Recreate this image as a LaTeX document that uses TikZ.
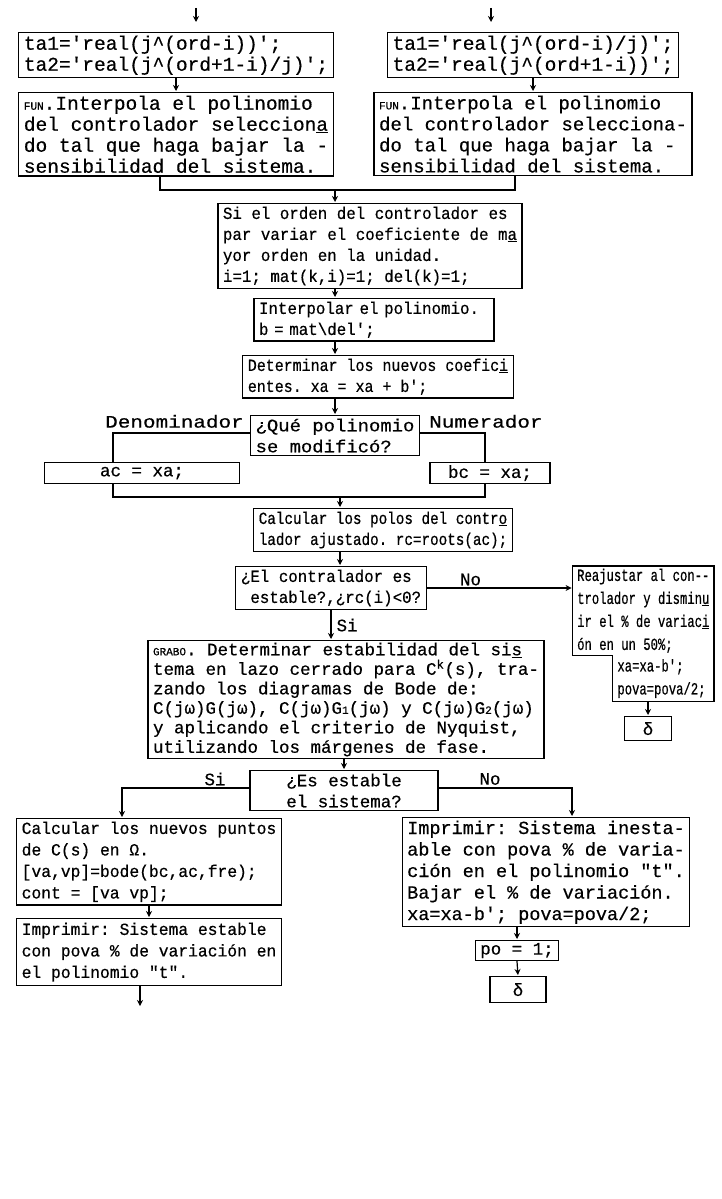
\documentclass[tikz,border=0pt]{standalone}
\usepackage{fontspec}
\setmonofont[FakeBold=0.5]{Liberation Mono}
\usetikzlibrary{arrows.meta,positioning,calc}

% size, line height, horizontal stretch
\newcommand{\tf}[3]{\ttfamily\fontsize{#1}{#2}\selectfont\addfontfeatures{FakeStretch=#3}}
\newcommand{\smc}[1]{{\fontsize{11}{11}\selectfont #1}}
\newcommand{\sbs}[1]{{\fontsize{11}{11}\selectfont #1}}

\begin{document}
\begin{tikzpicture}[
  x=1pt, y=-1pt,
  box/.style={rectangle, draw, line width=1.2pt, align=left, anchor=north,
              inner xsep=5pt, inner ysep=3pt, font=\tf{17.5}{21}{1}},
  lbl/.style={font=\tf{17.5}{21}{1}, inner xsep=1pt, inner ysep=2pt},
  line/.style={draw, line width=1.2pt},
  arr/.style={draw, line width=1.2pt, -{Stealth[length=6pt,width=6pt]}, shorten >=1pt}
]
\useasboundingbox (0,0) rectangle (721,1199);

% two entries at the top
\coordinate (inL) at (196,8);
\coordinate (inR) at (491,8);
\node[box, font=\tf{19.5}{21}{1}] (tl1) at (176,32) {ta1='real(j\textasciicircum(ord-i))';\\ta2='real(j\textasciicircum(ord+1-i)/j)';};
\node[box, font=\tf{19.5}{21}{1}] (tr1) at (533,32) {ta1='real(j\textasciicircum(ord-i)/j)';\\ta2='real(j\textasciicircum(ord+1-i))';};
\node[box, font=\tf{19.5}{21}{1}] (funL) at (176,92) {\smc{FUN}.Interpola el polinomio\\del controlador seleccion\underline{a}\\do tal que haga bajar la -\\sensibilidad del sistema.};
\node[box, font=\tf{19}{21}{1}] (funR) at (533,92) {\smc{FUN}.Interpola el polinomio\\del controlador selecciona-\\do tal que haga bajar la -\\sensibilidad del sistema.};
\draw[arr, shorten >=10pt] (inL) -- (inL |- tl1.north);
\draw[arr, shorten >=10pt] (inR) -- (inR |- tr1.north);
\draw[arr] (tl1.south) -- (funL.north);
\draw[arr] (tr1.south) -- (funR.north);

% middle column
\coordinate (mrg) at (335,190);
\node[box, font=\tf{17}{21}{0.93}] (ord) at (370,203) {Si el orden del controlador es\\par variar el coeficiente de m\underline{a}\\yor orden en la unidad.\\i=1; mat(k,i)=1; del(k)=1;};
\node[box, font=\tf{17}{21}{0.93}, text width=230pt] (interp) at (374,298) {Interpolar el polinomio.\\b = mat\textbackslash del';};
\node[box, font=\tf{17}{21}{0.88}] (coef) at (378,355) {Determinar los nuevos coefic\underline{i}\\entes. xa = xa + b';};
\draw[line] ([xshift=-16pt]funL.south) |- (mrg) -| ([xshift=-18pt]funR.south);
\draw[arr] (mrg) -- (ord.north -| mrg);
\draw[arr] (ord.south -| mrg) -- (interp.north -| mrg);
\draw[arr] (interp.south -| mrg) -- (coef.north -| mrg);

% which polynomial
\node[box, font=\tf{17.5}{21}{1.08}] (qpol) at (335,415) {¿Qué polinomio\\se modificó?};
\node[lbl, font=\tf{17.5}{21}{1.2}, anchor=south east] (den) at ([xshift=-5pt,yshift=-15pt]qpol.north west) {Denominador};
\node[lbl, font=\tf{17.5}{21}{1.2}, anchor=south west] (num) at ([xshift=8pt,yshift=-15pt]qpol.north east) {Numerador};
\coordinate (acx) at (113,0);
\coordinate (bcx) at (485,0);
\coordinate (mrg2) at (340,497);
\node[box, minimum width=195pt, minimum height=21pt, align=center, inner ysep=1pt] (ac) at (142,462) {ac = xa;};
\node[box, minimum width=120pt, minimum height=21pt, align=center, inner ysep=1pt] (bc) at (490,462) {bc = xa;};
\draw[arr] (coef.south -| mrg) -- (qpol.north -| mrg);
\draw[line] ([yshift=-18pt]qpol.north west) -| (ac.north -| acx);
\draw[line] ([yshift=-18pt]qpol.north east) -| (bc.north -| bcx);
\draw[line] (ac.south -| acx) |- (mrg2) -| (bc.south -| bcx);

\node[box, font=\tf{17}{21}{0.84}, inner ysep=3pt] (calcP) at (383,508) {Calcular los polos del contr\underline{o}\\lador ajustado. rc=roots(ac);};
\draw[arr] (mrg2) -- (calcP.north -| mrg2);

% stability of the controller
\node[box, font=\tf{17}{21}{0.93}] (stab) at (331,566) {¿El contralador es\\\phantom{x}estable?,¿rc(i)<0?};
\draw[arr] (calcP.south -| mrg2) -- (stab.north -| mrg2);
\node[box, draw=none, anchor=north east, font=\tf{17}{23}{0.72}, inner xsep=4pt, inner ysep=2pt] (reajT) at (714,566) {Reajustar al con--\\trolador y dismin\underline{u}\\ir el \% de variac\underline{i}\\ón en un 50\%;};
\node[box, draw=none, anchor=north east, font=\tf{17}{23}{0.72}, inner xsep=4pt, inner ysep=3pt, text width=92pt] (reajB) at (reajT.south east) {xa=xa-b';\\pova=pova/2;};
\draw[line] (reajT.north west) -- (reajT.north east) -- (reajB.south east)
  -- (reajB.south west) -- (reajB.north west) -- (reajT.south west) -- cycle;
\draw[arr] (stab.east) -- node[lbl, above, pos=0.3] {No} (stab.east -| reajT.west);
\node[box, minimum width=47pt, minimum height=24pt] (deltaR) at (648,716) {δ};
\draw[arr] (deltaR.north |- reajB.south) -- (deltaR.north);

% closed loop
\node[box, font=\tf{17.5}{19.5}{1}, inner ysep=2pt] (grabo) at (346,640) {\smc{GRABO}. Determinar estabilidad del si\underline{s}\\tema en lazo cerrado para C\textsuperscript{k}(s), tra-\\zando los diagramas de Bode de:\\C(jω)G(jω), C(jω)G\sbs{1}(jω) y C(jω)G\sbs{2}(jω)\\y aplicando el criterio de Nyquist,\\utilizando los márgenes de fase.};
\draw[arr] (stab.south) -- node[lbl, right=4pt] {Si} (stab.south |- grabo.north);

\node[box, minimum width=188pt, align=center] (esta) at (344,770) {¿Es estable\\el sistema?};
\draw[arr] (esta.north |- grabo.south) -- (esta.north);
\node[lbl] (siE) at (215,779) {Si};
\node[lbl] (noE) at (490,779) {No};

% stable branch
\node[box, font=\tf{17}{21.5}{0.96}] (calcN) at (149,818) {Calcular los nuevos puntos\\de C(s) en Ω.\\{}[va,vp]=bode(bc,ac,fre);\\cont = [va vp];};
\node[box, font=\tf{17}{21.5}{0.96}, inner ysep=4pt] (impE) at (149,918) {Imprimir: Sistema estable\\con pova \% de variación en\\el polinomio "t".};
\coordinate (outE) at (140,1007);
\draw[arr] ([yshift=-18pt]esta.north west) -| ([xshift=-27pt]calcN.north);
\draw[arr] (calcN.south) -- (calcN.south |- impE.north);
\draw[arr] (outE |- impE.south) -- (outE);

% unstable branch
\node[box, font=\tf{18.5}{21.5}{1}] (imprN) at (546,817) {Imprimir: Sistema inesta-\\able con pova \% de varia-\\ción en el polinomio "t".\\Bajar el \% de variación.\\xa=xa-b'; pova=pova/2;};
\node[box, minimum width=79pt, minimum height=20pt, align=center, inner ysep=1pt] (po) at (517,940) {po = 1;};
\node[box, minimum width=56pt, minimum height=26pt] (deltaB) at (518,976) {δ};
\draw[arr] ([yshift=-18pt]esta.north east) -| ([xshift=26pt]imprN.north);
\draw[arr] (po.north |- imprN.south) -- (po.north);
\draw[arr] (po.south) -- (deltaB.north);
\end{tikzpicture}
\end{document}
